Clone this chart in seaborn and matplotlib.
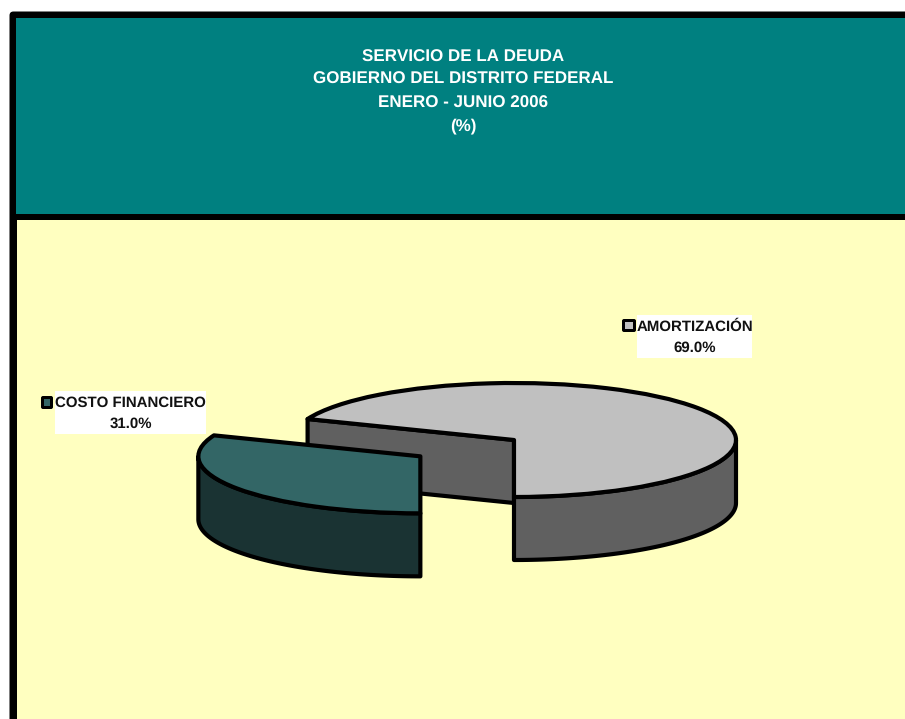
import matplotlib
matplotlib.use('Agg')
import matplotlib.pyplot as plt
import numpy as np
import seaborn as sns
from matplotlib.patches import FancyBboxPatch, Polygon, Rectangle

# Data
CATEGORIES = ['AMORTIZACIÓN', 'COSTO FINANCIERO']
SHARES = [69.0, 31.0]
TITLE_LINES = ['SERVICIO DE LA DEUDA', 'GOBIERNO DEL DISTRITO FEDERAL', 'ENERO - JUNIO 2006', '(%)']

# Settings
W, H = 905, 719
TOP_COLORS = sns.color_palette(['#C0C0C0', '#336666'])
SIDE_COLORS = sns.color_palette(['#606060', '#1A3333'])
EXPLODE = 0.51
# pie centre and radii on screen, and how far the walls drop
CX, CY, RX, RY = 514, 440, 222, 57
DEPTH = 63 / RY
LW = 3.0

sns.set_theme(style='white')
plt.rcParams['font.family'] = ['Liberation Sans', 'DejaVu Sans']
plt.rcParams['text.hinting'] = 'no_hinting'
plt.rcParams['text.hinting_factor'] = 1

fig = plt.figure(figsize=(W / 100, H / 100), dpi=100, facecolor='white')

# Background panel, in pixels
bg = fig.add_axes([0, 0, 1, 1])
bg.set_xlim(0, W)
bg.set_ylim(H, 0)
bg.axis('off')
bg.add_patch(FancyBboxPatch((9.5, 11.5), W + 20, H + 20, boxstyle='round,pad=0,rounding_size=4', fc='black', ec='none'))
bg.add_patch(Rectangle((16, 18), W, 196, fc='#008080', ec='none'))
bg.add_patch(Rectangle((17, 220), W, H, fc='#FFFFC0', ec='none'))

for line, y in zip(TITLE_LINES, [57, 79, 103, 126]):
    bg.text(463, y, line, color='white', fontsize=12, fontweight='bold', ha='center', va='center')

# Data labels
label_boxes = [(637, 315, 115, 43), (55, 391, 151, 43)]
key_boxes = [(622, 319, 14, 13), (41, 396, 12, 13)]
for i, cat in enumerate(CATEGORIES):
    x, y, w, h = label_boxes[i]
    bg.add_patch(Rectangle((x, y), w, h, fc='white', ec='none'))
    bg.text(x + w / 2, y + 12, cat, color='#111111', fontsize=10.6, fontweight='bold', ha='center', va='center')
    bg.text(x + w / 2, y + 33, f'{SHARES[i]:.1f}%', color='#111111', fontsize=10.6, fontweight='bold', ha='center', va='center')
    kx, ky, kw, kh = key_boxes[i]
    bg.add_patch(FancyBboxPatch((kx, ky), kw, kh, boxstyle='round,pad=0,rounding_size=2', fc='black', ec='none'))
    bg.add_patch(Rectangle((kx + 3, ky + 3), kw - 6, kh - 6, fc=TOP_COLORS[i], ec='none'))

# Pie axes, one data unit is one radius so the pie comes out squashed
ax = fig.add_axes([0, 0, 1, 1], facecolor='none')
edge = dict(edgecolor='black', linewidth=LW, joinstyle='round')


def arc(a0, a1, cx=0.0, cy=0.0, drop=0.0):
    t = np.radians(np.linspace(a0, a1, 80))
    return np.column_stack([cx + np.cos(t), cy + np.sin(t) - drop])


# Slice angles come from the shares, starting at the front of the pie
cut = 270 + 360 * SHARES[0] / sum(SHARES)
mid = np.radians((cut + 630) / 2)
off_x, off_y = EXPLODE * np.cos(mid), EXPLODE * np.sin(mid)
cut_x, cut_y = np.cos(np.radians(cut)), np.sin(np.radians(cut))

# Walls first, tops over them
wall = [(0, 0), (cut_x, cut_y), (cut_x, cut_y - DEPTH), (0, -DEPTH)]
ax.add_patch(Polygon(wall, closed=True, fc=SIDE_COLORS[0], zorder=1, **edge))
gray_top = arc(270, 360)
gray_bot = arc(270, 360, drop=DEPTH)[::-1]
ax.add_patch(Polygon(np.vstack([gray_top, gray_bot]), closed=True, fc=SIDE_COLORS[0], zorder=1.5, **edge))
teal_top = arc(180, 270, off_x, off_y)
teal_bot = arc(180, 270, off_x, off_y, drop=DEPTH)[::-1]
ax.add_patch(Polygon(np.vstack([teal_top, teal_bot]), closed=True, fc=SIDE_COLORS[1], zorder=1.5, **edge))

wedges, _ = ax.pie(SHARES, explode=[0, EXPLODE], startangle=270, radius=1, colors=TOP_COLORS, wedgeprops=edge)
wedges[0].set_zorder(2)
wedges[1].set_zorder(2)

ax.set_aspect('auto')
ax.set_xlim(-CX / RX, (W - CX) / RX)
ax.set_ylim((CY - H) / RY, CY / RY)
ax.axis('off')

fig.savefig('out.png', dpi=100)
